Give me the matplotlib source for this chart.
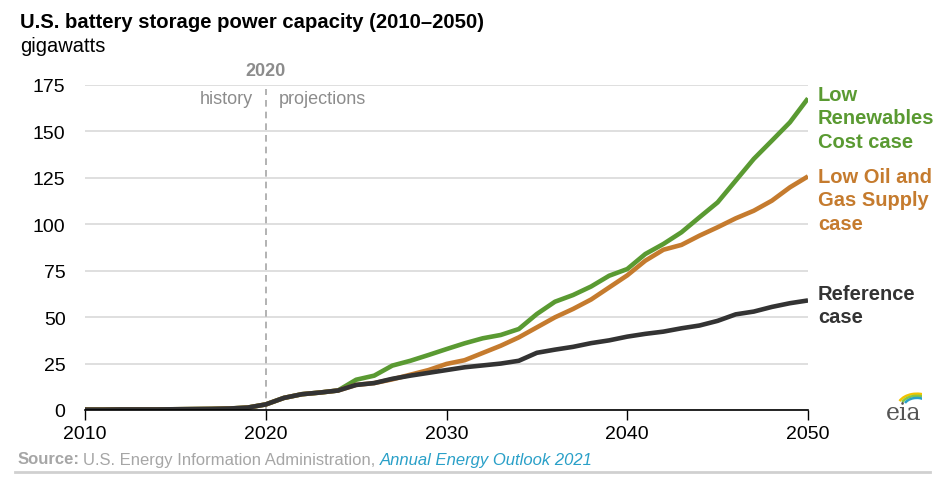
import numpy as np
from matplotlib import pyplot as plt
from matplotlib.patches import Arc

plt.rcParams['font.family'] = ['Liberation Sans', 'DejaVu Sans']

# Data (gigawatts)
years = list(range(2010, 2051))
reference = [0.2, 0.2, 0.3, 0.3, 0.3, 0.4, 0.5, 0.6, 0.8, 1.3,
             3.0, 6.5, 8.5, 9.4, 10.5, 13.5, 14.5, 16.8, 18.5, 20.0,
             21.5, 23.0, 24.0, 25.0, 26.5, 30.8, 32.5, 34.0, 36.0, 37.5,
             39.5, 41.0, 42.2, 44.0, 45.5, 48.0, 51.5, 53.0, 55.5, 57.5,
             59.0]
low_oil_gas = [0.2, 0.2, 0.3, 0.3, 0.3, 0.4, 0.5, 0.6, 0.8, 1.3,
               3.0, 6.5, 8.5, 9.4, 10.5, 13.5, 14.5, 16.5, 19.0, 21.5,
               24.8, 26.8, 30.7, 34.6, 39.1, 44.5, 49.9, 54.4, 59.5, 66.0,
               72.5, 80.4, 86.3, 88.9, 93.9, 98.4, 103.2, 107.3, 112.7, 119.9,
               125.8]
low_renew = [0.2, 0.2, 0.3, 0.3, 0.3, 0.4, 0.5, 0.6, 0.8, 1.3,
             3.0, 6.5, 8.5, 9.4, 10.5, 16.3, 18.5, 23.9, 26.5, 29.6,
             32.8, 35.9, 38.6, 40.4, 43.6, 51.7, 58.3, 61.9, 66.5, 72.3,
             75.9, 84.0, 89.4, 95.7, 103.8, 111.8, 123.5, 135.2, 145.0, 154.9,
             167.8]

green = '#5a9a32'
orange = '#c57b2e'
dark = '#333333'
gray = '#8c8c8c'

fig = plt.figure(figsize=(9.47, 4.81), dpi=100)
ax = fig.add_axes([85/947, 1-411/481, (808-85)/947, (411-86)/481])

ax.plot(years, reference, color=dark, lw=3.3, zorder=4, solid_capstyle='butt')
ax.plot(years, low_oil_gas, color=orange, lw=3.3, zorder=3, solid_capstyle='butt')
ax.plot(years, low_renew, color=green, lw=3.3, zorder=2, solid_capstyle='butt')

ax.set_xlim(2010, 2050)
ax.set_ylim(0, 175)
ax.set_xticks([2010, 2020, 2030, 2040, 2050])
ax.set_yticks(np.arange(0, 176, 25))
ax.tick_params(axis='x', length=7, width=1, color='black', labelsize=14, pad=4)
ax.tick_params(axis='y', length=0, labelsize=14, pad=14)
ax.grid(axis='y', color='#d9d9d9', lw=1.2)
ax.set_axisbelow(True)
for s in ['top', 'right', 'left']:
    ax.spines[s].set_visible(False)
ax.spines['bottom'].set_linewidth(1.2)
ax.spines['bottom'].set_zorder(5)

# history / projections divider
ax.plot([2020, 2020], [0, 173], color='#a6a6a6', lw=1.2, ls=(0, (4, 3)), zorder=1,
        clip_on=False)
ax.text(2020, 183, '2020', ha='center', va='center', fontsize=13, fontweight='bold',
        color=gray)
ax.text(2019.3, 168, 'history', ha='right', va='center', fontsize=13, color=gray)
ax.text(2020.7, 168, 'projections', ha='left', va='center', fontsize=13, color=gray)

# line labels
lab = dict(fontsize=14.5, fontweight='bold', va='top', ha='left', linespacing=1.3)
fig.text(818/947, 1-86/481, 'Low\nRenewables\nCost case', color=green, **lab)
fig.text(818/947, 1-168/481, 'Low Oil and\nGas Supply\ncase', color=orange, **lab)
fig.text(818/947, 1-285/481, 'Reference\ncase', color=dark, **lab)

# title
fig.text(20/947, 1-23/481, 'U.S. battery storage power capacity (2010\u20132050)',
         fontsize=14.6, fontweight='bold', va='center', ha='left')
fig.text(20/947, 1-46/481, 'gigawatts', fontsize=14.5, va='center', ha='left')

# source
t1 = fig.text(18/947, 1-460/481, 'Source:', fontsize=12, fontweight='bold',
              color='#a6a6a6', va='center', ha='left')
fig.canvas.draw()
bb = t1.get_window_extent()
x2 = bb.x1 / fig.bbox.width
t2 = fig.text(x2 + 3/947, 1-460/481, 'U.S. Energy Information Administration, ',
              fontsize=12, color='#a6a6a6', va='center', ha='left')
fig.canvas.draw()
bb = t2.get_window_extent()
fig.text(bb.x1 / fig.bbox.width, 1-460/481, 'Annual Energy Outlook 2021', fontsize=12,
         style='italic', color='#2aa0c8', va='center', ha='left')
fig.add_artist(plt.Line2D([15/947, 930/947], [1-473/481, 1-473/481],
                          color='#d0d0d0', lw=2, transform=fig.transFigure))

# eia logo
fig.text(904/947, 1-414/481, 'eia', fontsize=17, family='DejaVu Serif',
         color='#555555', ha='center', va='center')
lax = fig.add_axes([888/947, 1-408/481, 34/947, 20/481])
lax.set_xlim(0, 1)
lax.set_ylim(0, 1)
lax.axis('off')
for r, c in [(0.95, '#f2c400'), (0.8, '#8cc63f'), (0.65, '#2aa0c8')]:
    lax.add_patch(Arc((0.85, 0.0), r * 1.2, r * 1.4, theta1=60, theta2=150,
                      color=c, lw=1.8))

fig.savefig('out.png', dpi=100)
